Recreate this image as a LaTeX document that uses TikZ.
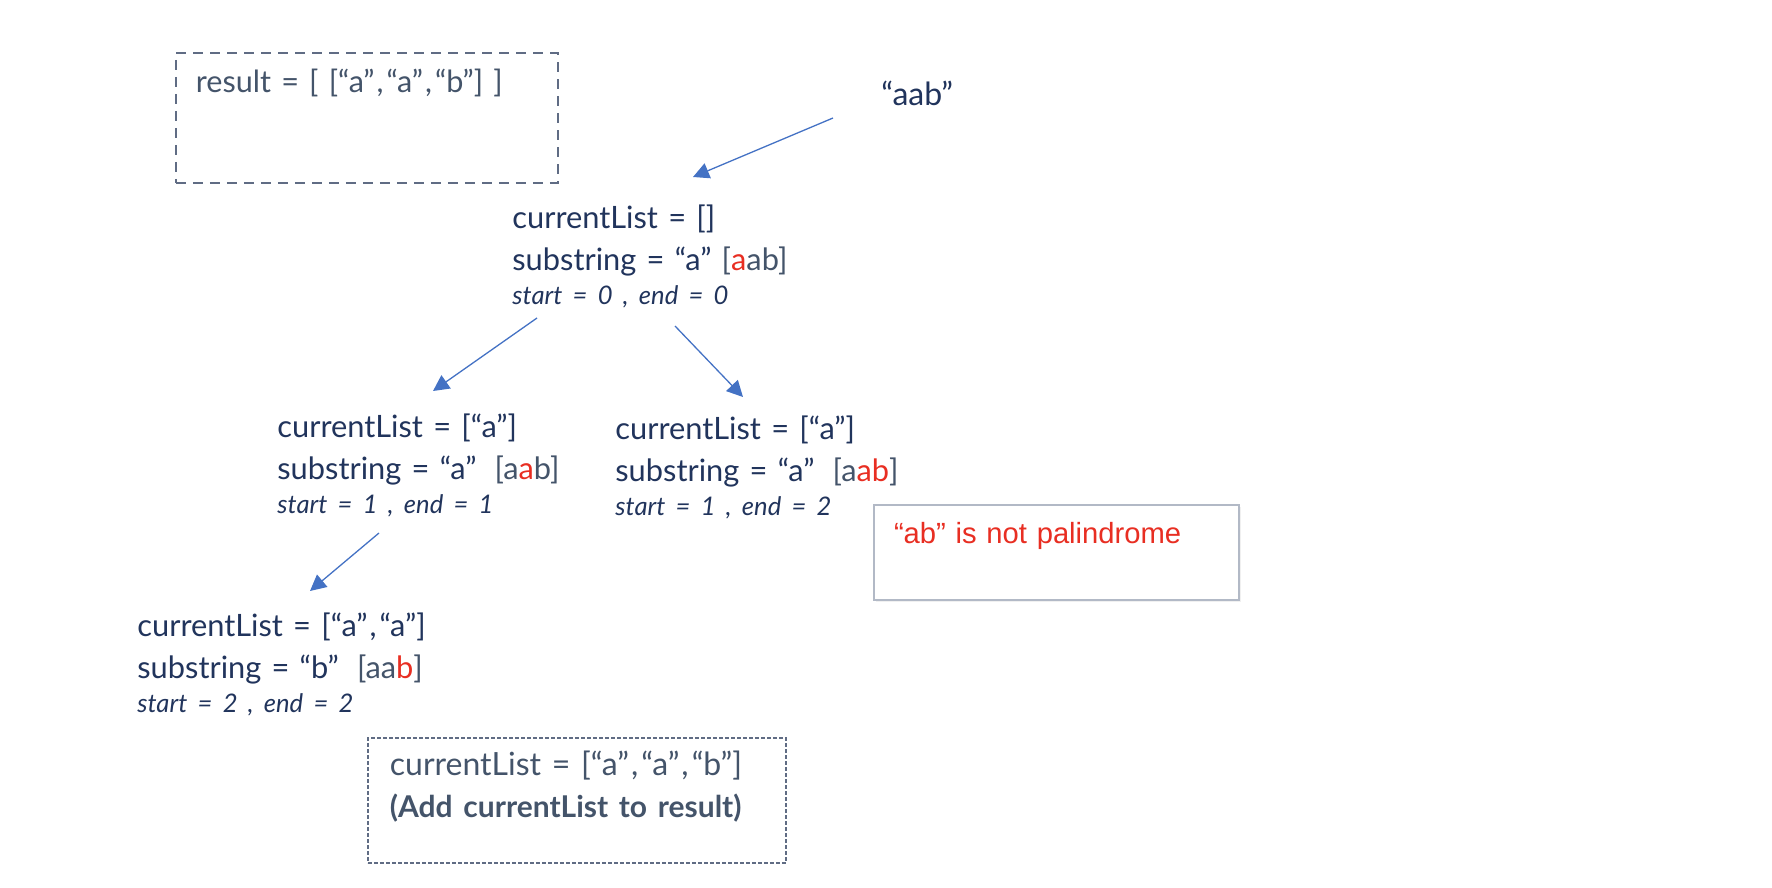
\documentclass[tikz,border=0pt]{standalone}
\usepackage{fontspec}
\setmainfont{Lato}
\newfontfamily\notefont{Liberation Sans}
\usetikzlibrary{calc,arrows.meta,shadows}
\definecolor{lnavy}{RGB}{33,52,92}
\definecolor{lslate}{RGB}{68,84,106}
\definecolor{lred}{RGB}{232,46,34}
\definecolor{lblue}{RGB}{68,114,196}
\definecolor{lframe}{RGB}{96,108,132}
\definecolor{lnote}{RGB}{178,185,198}
\newcommand\spanline[1]{{\fontsize{12.8}{14}\selectfont\itshape #1}}
\newcommand\hit[1]{{\color{lred}#1}}
\newcommand\soft[1]{{\color{lslate}#1}}
\newcommand\sep{\kern1pt,\kern1.5pt}

\begin{document}
\begin{tikzpicture}[x=0.5pt,y=-0.5pt,
  font=\fontsize{16}{21}\selectfont,
  every node/.style={text=lnavy},
  state/.style={anchor=base west,align=left,inner sep=0pt,text width=190pt,
    font=\fontsize{15.4}{21}\selectfont},
  flow/.style={lblue,line width=0.65pt,-{Triangle[length=8pt,width=8pt]}},
  dashbox/.style={draw=lframe,line width=0.9pt,dash pattern=on 5pt off 3.5pt,anchor=north west,
    align=left,inner ysep=0pt,inner xsep=10pt,text=lslate},
  notebox/.style={draw=lnote,line width=1pt,fill=white,anchor=north west,align=left,
    inner ysep=0pt,inner xsep=10pt,text=lred,
    drop shadow={opacity=0.12,shadow xshift=1pt,shadow yshift=-1pt}}]

\useasboundingbox (0,0) rectangle (1772,888);

% result box
\node[dashbox,text width=171pt,text height=20pt,text depth=45pt,
      font=\fontsize{15.3}{18}\selectfont] (result) at (175,52) {result = [ [“a”\sep“a”\sep“b”] ]};

% input string
\node[anchor=base west,inner sep=0pt] (input) at (881,105) {“aab”};

% recursion states
\node[state] (root) at (512,228)
  {currentList = []\\substring = “a” \soft{[}\hit{a}\soft{ab]}\\[-4pt]\spanline{start = 0 , end = 0}};
\node[state] (left) at (277,437)
  {currentList = [“a”]\\substring = “a”\hspace{4pt} \soft{[a}\hit{a}\soft{b]}\\[-4pt]\spanline{start = 1 , end = 1}};
\node[state] (right) at (615,439)
  {currentList = [“a”]\\substring = “a”\hspace{4pt} \soft{[a}\hit{ab}\soft{]}\\[-4pt]\spanline{start = 1 , end = 2}};
\node[state] (leaf) at (137,636)
  {currentList = [“a”\sep“a”]\\substring = “b”\hspace{4pt} \soft{[aa}\hit{b}\soft{]}\\[-4pt]\spanline{start = 2 , end = 2}};

% notes
\node[notebox,text width=162.5pt,text height=19pt,text depth=28.5pt,
      font=\notefont\fontsize{14.6}{17}\selectfont] (note) at (873,504) {“ab” is not palindrome};
\node[dashbox,dash pattern=on 2pt off 1pt,inner xsep=11pt,text width=187pt,
      text height=19pt,text depth=43.5pt] (final) at (367,737)
  {currentList = [“a”\sep“a”\sep“b”]\\{\fontsize{15}{21}\selectfont\bfseries (Add currentList to result)}};

% arrows
\draw[flow] ($(input.base west)+(-48,13)$) -- ($(root.base west)+(181,-51)$);
\draw[flow] ($(root.base west)+(25,90)$) -- ($(left.base west)+(156,-46)$);
\draw[flow] ($(root.base west)+(163,98)$) -- ($(right.base west)+(128,-42)$);
\draw[flow] ($(left.base west)+(102,96)$) -- ($(leaf.base west)+(173,-45)$);
\end{tikzpicture}
\end{document}
